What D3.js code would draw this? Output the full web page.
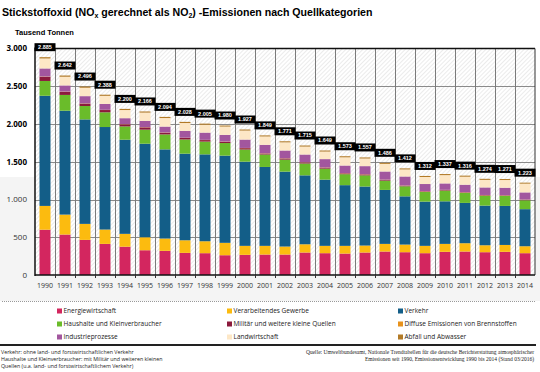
<!DOCTYPE html>
<html><head><meta charset="utf-8">
<script src="https://cdn.jsdelivr.net/npm/d3@7"></script>
<style>body{margin:0;background:#fff} svg{display:block}</style>
</head><body>
<svg id="c" width="540" height="372"></svg>
<script>
const years = ["1990","1991","1992","1993","1994","1995","1996","1997","1998","1999","2000","2001","2002","2003","2004","2005","2006","2007","2008","2009","2010","2011","2012","2013","2014"];
const energiewirtschaft = [600,536,465,412,375,328,320,293,289,262,267,271,271,298,289,284,298,311,302,289,307,311,302,307,289];
const verarbeitendesGewerbe = [315,264,212,190,170,172,163,167,158,164,119,115,106,109,97,102,92,101,101,97,105,110,92,91,92];
const verkehr = [1459,1376,1384,1358,1247,1239,1181,1147,1151,1155,1115,1045,992,913,877,804,782,715,639,586,564,534,525,517,491];
const haushalte = [196,209,177,195,176,186,198,188,169,167,161,165,159,157,146,145,148,123,133,128,142,133,131,133,118];
const militaer = [55,40,32,30,27,30,23,20,20,17,18,13,15,13,13,11,12,10,8,7,7,6,7,6,6];
const diffuse = [4,4,3,3,3,3,3,3,3,3,3,3,3,3,3,3,3,3,3,3,3,3,3,3,3];
const industrieprozesse = [107,82,96,78,79,83,78,91,96,88,111,112,103,103,110,101,107,108,119,95,85,99,100,99,95];
const landwirtschaft = [132,115,111,107,108,110,113,104,104,110,119,111,108,105,100,109,101,101,93,93,110,106,100,102,116];
const abfall = [17,16,16,15,15,15,15,15,15,14,14,14,14,14,14,14,14,14,14,14,14,14,14,13,13];
const totals = [2885,2642,2496,2388,2200,2166,2094,2028,2005,1980,1927,1849,1771,1715,1649,1573,1557,1486,1412,1312,1337,1316,1274,1271,1223];
const categories = ["Energiewirtschaft","Verarbeitendes Gewerbe","Verkehr","Haushalte und Kleinverbraucher","Militär und weitere kleine Quellen","Diffuse Emissionen von Brennstoffen","Industrieprozesse","Landwirtschaft","Abfall und Abwasser"];
const colors = ["#d3265f","#fcbb0f","#135e88","#6abc2a","#8b1a3c","#e8921c","#a2569e","#fde7c6","#b27a26"];
const yTicks = [0,500,1000,1500,2000,2500,3000];
const seriesValues = [energiewirtschaft,verarbeitendesGewerbe,verkehr,haushalte,militaer,diffuse,industrieprozesse,landwirtschaft,abfall];

const rows = years.map((y,i)=>{const r={year:y}; categories.forEach((c,k)=>r[c]=seriesValues[k][i]); return r;});
const stacked = d3.stack().keys(categories)(rows);

const svg = d3.select("#c");
const L=35, R=535, T=48.5, B=275;
const x = d3.scaleBand().domain(years).range([L,R]).padding(0);
const y = d3.scaleLinear().domain([0,3000]).range([B,T]);
const de = d3.formatLocale({decimal:",",thousands:".",grouping:[3],currency:["","€"]});
const fmt = de.format(",d");

// defs: hatch
const defs = svg.append("defs");
const pat = defs.append("pattern").attr("id","hatch").attr("patternUnits","userSpaceOnUse")
  .attr("width",3).attr("height",3).attr("patternTransform","rotate(45)");
pat.append("rect").attr("width",3).attr("height",3).attr("fill","#fff");
pat.append("line").attr("x1",0).attr("y1",0).attr("x2",0).attr("y2",3).attr("stroke","#d8d8d8").attr("stroke-width",1);

// light gray band behind lower area
svg.append("rect").attr("x",0).attr("y",177).attr("width",540).attr("height",124).attr("fill","#f4f4f4");

// plot background
svg.append("rect").attr("x",L).attr("y",T).attr("width",R-L).attr("height",B-T).attr("fill","url(#hatch)");

// horizontal grid
svg.append("g").selectAll("line").data(yTicks.filter(d=>d>0&&d<3000)).join("line")
  .attr("x1",L).attr("x2",R).attr("y1",d=>Math.round(y(d))+0.5).attr("y2",d=>Math.round(y(d))+0.5)
  .attr("stroke","#8a8a8a").attr("stroke-width",1);
// vertical grid
svg.append("g").selectAll("line").data(years.slice(1)).join("line")
  .attr("x1",d=>Math.round(x(d))+0.5).attr("x2",d=>Math.round(x(d))+0.5).attr("y1",T).attr("y2",B)
  .attr("stroke","#7a7a7a").attr("stroke-width",1);

// bars
const bw = 11;
svg.append("g").selectAll("g").data(stacked).join("g").attr("fill",(d,i)=>colors[i])
  .selectAll("rect").data(d=>d).join("rect")
  .attr("x",d=>x(d.data.year)+(x.bandwidth()-bw)/2).attr("width",bw)
  .attr("y",d=>y(d[1])).attr("height",d=>Math.max(0,y(d[0])-y(d[1])));

// borders
svg.append("line").attr("x1",L).attr("x2",R).attr("y1",T).attr("y2",T).attr("stroke","#111").attr("stroke-width",1.5);
svg.append("line").attr("x1",R).attr("x2",R).attr("y1",T).attr("y2",B).attr("stroke","#333").attr("stroke-width",1);
svg.append("line").attr("x1",L).attr("x2",L).attr("y1",T-1).attr("y2",B+1).attr("stroke","#111").attr("stroke-width",1.5);
svg.append("line").attr("x1",L).attr("x2",R).attr("y1",B).attr("y2",B).attr("stroke","#111").attr("stroke-width",1.5);
// x ticks
svg.append("g").selectAll("line").data(years.slice(1)).join("line")
  .attr("x1",d=>Math.round(x(d))+0.5).attr("x2",d=>Math.round(x(d))+0.5).attr("y1",B).attr("y2",B+3)
  .attr("stroke","#333").attr("stroke-width",1);

// y labels
svg.append("g").selectAll("text").data(yTicks).join("text")
  .attr("x",27).attr("y",d=>y(d)).attr("dy","0.35em").attr("text-anchor","end")
  .attr("font-family","Open Sans").attr("font-size",8)
  .attr("font-weight",d=>y(d)<177?700:400).attr("fill",d=>y(d)<177?"#000":"#333")
  .text(d=>fmt(d));
// x labels
svg.append("g").selectAll("text").data(years).join("text")
  .attr("x",d=>x(d)+x.bandwidth()/2).attr("y",288).attr("text-anchor","middle")
  .attr("font-family","Open Sans").attr("font-size",7).attr("fill","#333").text(d=>d);

// total labels
const lab = svg.append("g").selectAll("g").data(years).join("g");
lab.append("rect").attr("x",d=>x(d)-0.5).attr("width",x.bandwidth()+1)
  .attr("y",(d,i)=>y(totals[i])-14).attr("height",8).attr("fill","#000");
lab.append("text").attr("x",d=>x(d)+x.bandwidth()/2).attr("y",(d,i)=>y(totals[i])-10)
  .attr("dy","0.35em").attr("text-anchor","middle").attr("fill","#fff")
  .attr("font-family","Liberation Sans").attr("font-weight",700).attr("font-size",5.5)
  .text((d,i)=>fmt(totals[i]));

// title
const title = svg.append("text").attr("x",2).attr("y",16).attr("font-family","Liberation Sans")
  .attr("font-weight",700).attr("font-size",10.6).attr("fill","#000");
title.append("tspan").text("Stickstoffoxid (NO");
title.append("tspan").attr("font-size",7).attr("dy",2).text("x");
title.append("tspan").attr("dy",-2).text(" gerechnet als NO");
title.append("tspan").attr("font-size",7).attr("dy",2).text("2");
title.append("tspan").attr("dy",-2).text(") -Emissionen nach Quellkategorien");
svg.append("text").attr("x",15).attr("y",35).attr("font-family","Liberation Sans").attr("font-weight",700)
  .attr("font-size",7.5).attr("fill","#000").text("Tausend Tonnen");

// separators
svg.append("line").attr("x1",2).attr("x2",535).attr("y1",301.5).attr("y2",301.5)
  .attr("stroke","#999").attr("stroke-width",1).attr("stroke-dasharray","1,1");
svg.append("line").attr("x1",0).attr("x2",536).attr("y1",345).attr("y2",345)
  .attr("stroke","#222").attr("stroke-width",2);

// legend
const colX = [57,227,398], rowY = [311,324,337];
const leg = svg.append("g").selectAll("g").data(categories).join("g")
  .attr("transform",(d,i)=>`translate(${colX[i%3]},${rowY[Math.floor(i/3)]})`);
leg.append("rect").attr("x",0).attr("y",-2.5).attr("width",5).attr("height",5).attr("fill",(d,i)=>colors[i]);
leg.append("text").attr("x",6.5).attr("y",0).attr("dy","0.35em").attr("font-family","Open Sans")
  .attr("font-size",6.5).attr("fill","#222").text(d=>d);

// footnotes
const notes = ["Verkehr: ohne land- und forstwirtschaftlichen Verkehr","Haushalte und Kleinverbraucher: mit Militär und weiteren kleinen","Quellen (u.a. land- und forstwirtschaftlichem Verkehr)"];
svg.append("g").selectAll("text").data(notes).join("text").attr("x",1).attr("y",(d,i)=>353.5+i*7)
  .attr("font-family","Open Sans").attr("font-size",5.3).attr("fill","#222").text(d=>d);
const src = ["Quelle: Umweltbundesamt, Nationale Trendtabellen für die deutsche Berichterstattung atmosphärischer","Emissionen seit 1990, Emissionsentwicklung 1990 bis 2014 (Stand 03/2016)"];
svg.append("g").selectAll("text").data(src).join("text").attr("x",534).attr("y",(d,i)=>354+i*7)
  .attr("text-anchor","end").attr("font-family","Liberation Serif").attr("font-size",5.5).attr("fill","#222").text(d=>d);
</script>
</body></html>
